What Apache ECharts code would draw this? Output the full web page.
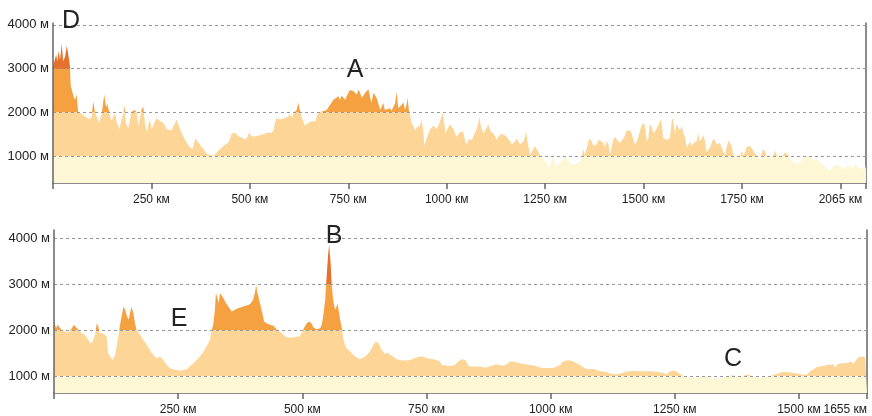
<!DOCTYPE html>
<html>
<head>
<meta charset="utf-8">
<script src="https://cdn.jsdelivr.net/npm/echarts@6/dist/echarts.min.js"></script>
<style>
  html, body { margin: 0; background: #fff; }
  #chart { width: 872px; height: 416px; }
</style>
</head>
<body>
<div id="chart"></div>
<script>
// distance (km), elevation (m) along the first route
var topProfile = [
  [0,3040],[8,3320],[11,3160],[14,3400],[18,3200],[22,3560],[26,3160],[31,3280],[35,3520],[38,3520],[41,3200],[43,3040],
  [45,2606],[47,2645],[52,2370],[56,2290],[60,2410],[64,2016],[81,1908],[94,1837],[98,1908],[102,2252],[107,1979],[111,1908],
  [117,1766],[124,1979],[130,2409],[135,2117],[138,2196],[145,1908],[149,1801],[153,1908],[158,1979],[162,1766],[169,1624],
  [174,1837],[179,1979],[181,2173],[185,1766],[191,1638],[196,1659],[200,2016],[204,1979],[208,2055],[213,1979],[217,1695],
  [221,1872],[225,2055],[229,2134],[234,1730],[238,1553],[242,1695],[246,1837],[251,1624],[255,1695],[259,1659],[263,1872],
  [272,1801],[280,1766],[289,1624],[301,1588],[306,1624],[314,1837],[318,1730],[327,1518],[340,1305],[348,1199],[355,1163],
  [361,1411],[365,1376],[373,1269],[382,1163],[390,1057],[401,1021],[407,1007],[412,1043],[420,1128],[429,1199],[437,1269],
  [445,1305],[450,1411],[454,1518],[462,1539],[468,1482],[475,1447],[482,1411],[488,1376],[494,1447],[499,1553],[502,1482],
  [509,1447],[526,1482],[543,1532],[555,1539],[560,1588],[564,1766],[568,1872],[577,1837],[589,1872],[598,1908],[602,1979],
  [606,1872],[611,1979],[619,2055],[623,2228],[627,2055],[632,1872],[640,1695],[649,1766],[657,1801],[666,1801],[670,1908],
  [674,1979],[682,2016],[695,2055],[704,2173],[712,2291],[716,2331],[725,2370],[729,2291],[733,2386],[742,2291],[746,2370],
  [754,2512],[763,2488],[767,2528],[771,2409],[776,2512],[780,2449],[784,2331],[793,2449],[801,2528],[805,2370],[809,2213],
  [814,2449],[818,2409],[822,2331],[826,2213],[831,2055],[835,2016],[839,2213],[843,2055],[848,2016],[856,2094],[860,2039],
  [865,2134],[869,2213],[873,2465],[877,2094],[881,2055],[886,2173],[890,2228],[894,2055],[898,2173],[901,2331],[904,2039],
  [907,1943],[911,1766],[915,1695],[920,1589],[924,1660],[928,1624],[932,1695],[936,1837],[941,1553],[943,1234],[949,1411],
  [958,1624],[966,1695],[975,1624],[983,1801],[987,1837],[990,1995],[993,1801],[997,1518],[1004,1660],[1008,1730],[1017,1624],
  [1021,1518],[1025,1447],[1034,1553],[1038,1589],[1042,1553],[1047,1340],[1051,1269],[1055,1376],[1059,1411],[1064,1376],
  [1068,1447],[1072,1482],[1076,1624],[1080,1766],[1083,1908],[1086,1730],[1089,1624],[1093,1518],[1097,1553],[1102,1660],
  [1106,1730],[1110,1589],[1114,1624],[1119,1518],[1123,1482],[1127,1376],[1131,1447],[1135,1482],[1140,1518],[1144,1482],
  [1152,1447],[1161,1340],[1165,1269],[1169,1305],[1174,1340],[1178,1411],[1182,1376],[1186,1269],[1191,1305],[1195,1340],
  [1199,1447],[1202,1567],[1205,1340],[1212,1021],[1216,1057],[1220,1163],[1224,1234],[1229,1199],[1233,1092],[1237,1021],
  [1246,950],[1250,844],[1254,915],[1258,702],[1262,809],[1267,915],[1271,986],[1275,844],[1279,773],[1288,844],[1296,950],
  [1301,1007],[1305,950],[1313,844],[1322,809],[1330,844],[1339,880],[1343,986],[1347,1163],[1351,1021],[1356,1199],
  [1360,1340],[1364,1411],[1368,1447],[1373,1234],[1377,1199],[1381,1269],[1385,1376],[1389,1340],[1398,1305],[1402,1199],
  [1406,1340],[1411,1269],[1415,1021],[1419,1057],[1423,1376],[1428,1447],[1432,1376],[1436,1411],[1440,1305],[1444,1269],
  [1449,1411],[1453,1482],[1457,1589],[1461,1553],[1466,1589],[1470,1518],[1474,1376],[1478,1269],[1483,1340],[1487,1447],
  [1491,1589],[1495,1695],[1500,1766],[1504,1660],[1508,1340],[1512,1411],[1516,1730],[1521,1660],[1525,1518],[1529,1553],
  [1533,1624],[1538,1660],[1542,1801],[1544,1851],[1546,1730],[1550,1411],[1555,1397],[1559,1376],[1567,1411],[1571,1766],
  [1574,1887],[1577,1695],[1580,1518],[1584,1730],[1588,1660],[1593,1589],[1597,1695],[1601,1518],[1605,1447],[1610,1199],
  [1614,1269],[1618,1340],[1622,1234],[1627,1305],[1631,1269],[1635,1340],[1639,1518],[1643,1340],[1648,1411],[1652,1482],
  [1656,1340],[1660,1092],[1665,1128],[1669,1199],[1673,1305],[1677,1411],[1682,1340],[1686,1269],[1690,1234],[1694,1305],
  [1698,1199],[1703,1092],[1707,1021],[1711,1199],[1715,1355],[1720,1305],[1724,1234],[1728,1021],[1737,986],[1745,986],
  [1749,1128],[1754,1021],[1758,1092],[1762,1213],[1766,1199],[1770,1234],[1775,1199],[1779,1128],[1783,1057],[1787,1021],
  [1792,986],[1796,915],[1800,1057],[1804,1163],[1809,1092],[1813,986],[1821,950],[1830,1021],[1834,1128],[1838,1021],
  [1847,986],[1855,1021],[1859,1092],[1864,1128],[1868,1021],[1872,950],[1881,865],[1889,823],[1897,879],[1906,950],
  [1914,1007],[1923,986],[1931,915],[1940,915],[1948,858],[1957,809],[1965,738],[1974,667],[1978,702],[1982,773],[1991,809],
  [1999,773],[2008,702],[2012,738],[2016,773],[2020,809],[2024,773],[2029,809],[2033,738],[2037,830],[2041,787],[2046,738],
  [2050,702],[2063,716],[2065,773]
];

// distance (km), elevation (m) along the second route
var bottomProfile = [
  [0,2221],[4,2040],[7,2112],[11,2091],[15,2003],[22,1967],[29,1945],[36,2040],[40,2112],[44,2076],[49,2003],[56,1931],
  [62,1894],[67,1822],[73,1712],[78,1749],[83,1894],[86,2149],[89,2076],[93,1931],[96,1894],[99,1931],[103,1945],[106,1858],
  [109,1494],[113,1422],[118,1349],[123,1458],[126,1640],[130,1894],[133,2112],[136,2294],[140,2512],[143,2439],[146,2330],
  [150,2221],[153,2367],[156,2498],[160,2367],[163,2149],[166,2003],[173,1894],[180,1785],[187,1676],[193,1567],[200,1458],
  [207,1385],[213,1422],[220,1349],[227,1240],[234,1167],[240,1145],[247,1131],[254,1116],[260,1131],[264,1109],[267,1145],
  [274,1218],[281,1276],[287,1349],[294,1422],[301,1531],[307,1640],[314,1785],[317,1967],[321,2149],[324,2439],[326,2803],
  [329,2694],[332,2585],[334,2803],[338,2767],[341,2694],[346,2585],[351,2512],[354,2476],[358,2403],[361,2439],[368,2461],
  [375,2490],[381,2512],[388,2534],[395,2563],[401,2658],[405,2839],[407,2990],[409,2839],[413,2658],[418,2439],[423,2185],
  [428,2149],[435,2112],[442,2091],[448,2018],[455,1967],[462,1894],[468,1843],[475,1836],[482,1836],[489,1858],[495,1858],
  [499,1945],[503,2040],[509,2149],[514,2185],[519,2134],[522,2061],[529,2018],[536,2040],[539,2112],[542,2294],[546,2658],
  [549,3166],[552,3639],[554,3857],[557,3457],[559,3021],[562,2658],[566,2439],[569,2512],[571,2563],[573,2439],[576,2221],
  [579,2076],[583,1785],[586,1676],[589,1603],[596,1531],[603,1458],[609,1407],[616,1364],[623,1400],[630,1458],[636,1531],
  [643,1676],[648,1749],[652,1785],[654,1712],[658,1603],[662,1567],[666,1480],[671,1509],[677,1458],[683,1422],[690,1364],
  [697,1349],[703,1334],[710,1334],[717,1349],[723,1371],[730,1400],[737,1422],[744,1422],[750,1385],[757,1371],[764,1364],
  [770,1349],[777,1313],[782,1225],[787,1240],[794,1218],[801,1225],[807,1240],[814,1313],[821,1364],[828,1349],[832,1276],
  [836,1204],[844,1204],[858,1204],[864,1189],[871,1182],[878,1218],[885,1233],[891,1254],[898,1240],[905,1225],[911,1247],
  [918,1313],[925,1313],[932,1291],[938,1276],[945,1262],[958,1240],[965,1233],[972,1204],[979,1182],[985,1174],[1005,1174],
  [1012,1204],[1019,1240],[1025,1313],[1029,1276],[1032,1334],[1036,1291],[1039,1334],[1042,1291],[1046,1313],[1052,1276],
  [1059,1240],[1062,1204],[1069,1167],[1076,1145],[1083,1153],[1089,1145],[1096,1116],[1103,1095],[1109,1095],[1116,1073],
  [1126,1036],[1136,1044],[1146,1073],[1153,1095],[1166,1109],[1180,1102],[1193,1102],[1207,1095],[1220,1080],[1227,1073],
  [1234,1036],[1240,1095],[1247,1116],[1254,1095],[1260,1044],[1267,1000],[1274,985],[1280,949],[1287,956],[1294,964],
  [1301,971],[1307,985],[1314,1000],[1321,985],[1327,935],[1334,927],[1341,949],[1348,971],[1354,985],[1361,1007],[1368,1015],
  [1374,985],[1381,1000],[1388,1007],[1395,1029],[1401,1015],[1408,985],[1415,971],[1421,956],[1428,985],[1435,985],
  [1442,1000],[1448,1022],[1455,1044],[1462,1073],[1468,1087],[1482,1080],[1489,1065],[1495,1058],[1502,1044],[1509,1029],
  [1515,1029],[1522,1095],[1529,1145],[1535,1189],[1542,1204],[1549,1218],[1556,1240],[1562,1240],[1569,1262],[1572,1182],
  [1576,1204],[1579,1262],[1586,1276],[1593,1276],[1599,1291],[1606,1313],[1609,1262],[1613,1313],[1616,1349],[1619,1400],
  [1626,1422],[1633,1407],[1637,1385]
];

var elevTicks = [1000, 2000, 3000, 4000];

var topTicks = [250, 500, 750, 1000, 1250, 1500, 1750, 2000];
var topTickLabels = ['250 км', '500 км', '750 км', '1000 км', '1250 км', '1500 км', '1750 км', '2065 км'];
var bottomTicks = [250, 500, 750, 1000, 1250, 1500, 1637];
var bottomTickLabels = ['250 км', '500 км', '750 км', '1000 км', '1250 км', '1500 км', '1655 км'];

// letter, panel, km, elevation
var marks = [
  ['D', 0, 46, 4090],
  ['A', 0, 767, 2975],
  ['E', 1, 252, 2245],
  ['B', 1, 564, 4050],
  ['C', 1, 1367, 1375]
];

var FONT = '"Liberation Sans", Arial, sans-serif';

var chart = echarts.init(document.getElementById('chart'));

function xAxisFor(grid, max, ticks, labels, alignMax) {
  return {
    gridIndex: grid,
    type: 'value',
    min: 0,
    max: max,
    axisLine: { onZero: false, lineStyle: { color: '#666', width: 1.5 } },
    axisTick: { length: 6, customValues: [0].concat(ticks, [max]), lineStyle: { color: '#666', width: 1.5 } },
    axisLabel: {
      customValues: ticks,
      margin: 11,
      color: '#222',
      fontSize: 12,
      fontFamily: FONT,
      alignMaxLabel: alignMax,
      formatter: function (v) { return labels[ticks.indexOf(v)]; }
    },
    splitLine: { show: false }
  };
}

function yAxesFor(grid, min, max) {
  return [{
    gridIndex: grid,
    type: 'value',
    min: min,
    max: max,
    z: 5,
    axisLine: { show: true, onZero: false, lineStyle: { color: '#666', width: 1.5 } },
    axisTick: { show: false, customValues: elevTicks },
    axisLabel: {
      customValues: elevTicks,
      margin: 4,
      color: '#222',
      fontSize: 13,
      fontFamily: FONT,
      formatter: function (v) { return v + ' м'; }
    },
    splitLine: { show: true, lineStyle: { color: '#999', width: 1, type: [3, 3] } }
  }, {
    gridIndex: grid,
    type: 'value',
    position: 'right',
    min: min,
    max: max,
    axisLine: { show: true, onZero: false, lineStyle: { color: '#666', width: 1.5 } },
    axisTick: { show: false },
    axisLabel: { show: false },
    splitLine: { show: false }
  }];
}

var option = {
  animation: false,
  grid: [
    { left: 53, top: 23, width: 813, height: 160, outerBoundsMode: 'none' },
    { left: 54, top: 230, width: 813, height: 163, outerBoundsMode: 'none' }
  ],
  xAxis: [
    xAxisFor(0, 2065, topTicks, topTickLabels, null),
    xAxisFor(1, 1637, bottomTicks, bottomTickLabels, 'right')
  ],
  yAxis: yAxesFor(0, 390, 4040).concat(yAxesFor(1, 630, 4174)),
  visualMap: {
    type: 'piecewise',
    show: false,
    dimension: 1,
    seriesIndex: [0, 1],
    pieces: [
      { lt: 1000, color: '#fdf7d6' },
      { gte: 1000, lt: 2000, color: '#fdd596' },
      { gte: 2000, lt: 3000, color: '#f5a142' },
      { gte: 3000, color: '#e4722c' }
    ]
  },
  series: [
    {
      type: 'line',
      xAxisIndex: 0,
      yAxisIndex: 0,
      data: topProfile,
      symbol: 'none',
      lineStyle: { width: 0 },
      areaStyle: { opacity: 1 },
      silent: true
    },
    {
      type: 'line',
      xAxisIndex: 1,
      yAxisIndex: 2,
      data: bottomProfile,
      symbol: 'none',
      lineStyle: { width: 0 },
      areaStyle: { opacity: 1 },
      silent: true
    }
  ]
};

chart.setOption(option);

// place the letters through the axes
var texts = marks.map(function (m) {
  var p = chart.convertToPixel({ gridIndex: m[1] }, [m[2], m[3]]);
  return {
    type: 'text',
    x: p[0],
    y: p[1],
    z: 10,
    style: {
      text: m[0],
      fill: '#222',
      fontSize: 25,
      fontFamily: FONT,
      align: 'center',
      verticalAlign: 'middle'
    }
  };
});
chart.setOption({ graphic: texts });
</script>
</body>
</html>
